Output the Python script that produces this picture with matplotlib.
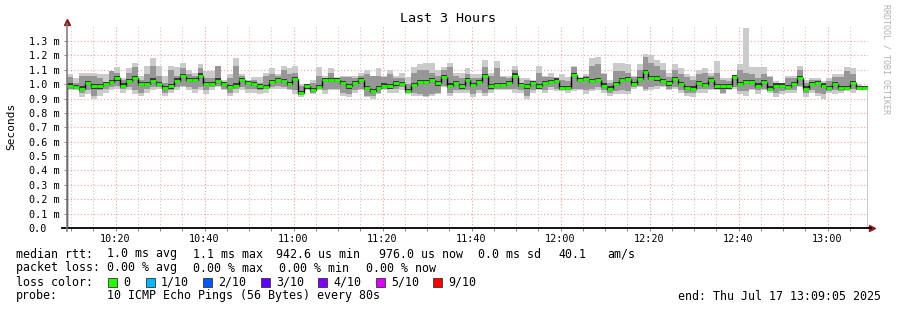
import numpy as np
import matplotlib
matplotlib.use('Agg')
import matplotlib.pyplot as plt
from matplotlib.patches import Rectangle
from matplotlib.ticker import MultipleLocator, FixedLocator

plt.rcParams['font.family'] = ['DejaVu Sans Mono', 'DejaVu Sans']

title = 'Last 3 Hours'

# 135 samples of 80 s, 10:09:05 -> 13:09:05 (x in minutes after 10:00)
t_start = 9 + 5 / 60.
step = 80 / 60.

# median rtt per step (ms)
median = [0.99, 0.98, 0.97, 1.01, 0.985, 0.985, 1.0, 1.015, 1.04, 0.99,
          1.02, 1.045, 1.0, 1.0, 1.025, 1.0, 0.975, 0.985, 1.025, 1.055,
          1.03, 1.03, 1.06, 1.0, 1.0, 1.025, 1.0,
          0.98, 0.99, 1.03, 1.01, 1.0, 0.985, 0.98, 1.015, 1.03, 1.02,
          1.0, 1.035, 0.94, 0.985, 0.96, 0.98, 1.03, 1.03, 1.03, 1.01,
          0.985, 1.01, 1.03, 0.975, 0.955, 0.975, 0.99,
          0.985, 1.005, 1.0, 0.955, 0.995, 1.015, 1.015, 1.03, 1.005, 1.05,
          0.99, 1.01, 0.985, 1.03, 0.995, 1.015, 1.055, 0.985, 0.995, 0.995,
          1.01, 1.06, 0.995, 0.985, 1.01, 0.985, 1.01,
          1.015, 1.025, 0.975, 0.975, 1.065, 1.03, 1.035, 1.02, 1.03, 0.99,
          0.97, 1.0, 1.03, 1.035, 1.0, 1.035, 1.085, 1.045, 1.04, 1.02,
          1.005, 1.035, 1.0, 0.975, 0.97, 1.01, 0.995,
          1.03, 0.985, 0.985, 0.985, 1.05, 1.0, 1.015, 1.015, 0.99, 1.015,
          0.97, 0.99, 0.99, 0.98, 1.0, 1.045, 0.97, 1.0, 1.01, 0.99,
          0.975, 1.0, 0.975, 0.975, 1.01, 0.975, 0.975]

# outer smoke (slowest / fastest ping)
smoke_max = [1.07, 1.04, 1.08, 1.08, 1.08, 1.07, 1.07, 1.09, 1.12, 1.04,
             1.11, 1.15, 1.06, 1.13, 1.18, 1.13, 1.06, 1.13, 1.12, 1.15,
             1.10, 1.08, 1.14, 1.09, 1.09, 1.13, 1.03,
             1.07, 1.18, 1.07, 1.03, 1.05, 1.05, 1.08, 1.11, 1.07, 1.13,
             1.11, 1.13, 1.00, 0.99, 1.03, 1.12, 1.06, 1.11, 1.05, 1.06,
             1.06, 1.06, 1.08, 1.10, 1.06, 1.11, 1.06,
             1.10, 1.06, 1.08, 1.05, 1.12, 1.14, 1.15, 1.15, 1.10, 1.12,
             1.15, 1.08, 1.08, 1.11, 1.07, 1.07, 1.17, 1.08, 1.16, 1.06,
             1.06, 1.13, 1.04, 1.04, 1.03, 1.13, 1.06,
             1.08, 1.05, 1.07, 1.05, 1.13, 1.05, 1.07, 1.18, 1.19, 1.08,
             1.03, 1.15, 1.15, 1.14, 1.06, 1.14, 1.21, 1.20, 1.17, 1.15,
             1.08, 1.14, 1.11, 1.07, 1.06, 1.10, 1.11,
             1.08, 1.16, 1.04, 1.04, 1.06, 1.14, 1.39, 1.12, 1.12, 1.12,
             1.06, 1.02, 1.01, 1.06, 1.06, 1.13, 1.03, 1.04, 1.04, 1.02,
             1.04, 1.07, 1.07, 1.12, 1.11, 1.00, 0.99]
smoke_min = [0.96, 0.96, 0.91, 0.93, 0.90, 0.92, 0.94, 0.96, 0.97, 0.94,
             0.96, 0.93, 0.92, 0.94, 0.96, 0.97, 0.92, 0.94, 0.96, 0.98,
             0.96, 0.94, 0.96, 0.93, 0.96, 0.98, 0.96,
             0.92, 0.94, 0.96, 0.94, 0.94, 0.93, 0.94, 0.97, 0.97, 0.97,
             0.96, 0.93, 0.91, 0.96, 0.93, 0.96, 0.93, 0.96, 0.96, 0.92,
             0.91, 0.94, 0.96, 0.91, 0.90, 0.93, 0.96,
             0.94, 0.94, 0.96, 0.93, 0.92, 0.92, 0.91, 0.92, 0.93, 0.98,
             0.92, 0.94, 0.94, 0.94, 0.91, 0.94, 0.92, 0.94, 0.96, 0.96,
             0.96, 0.94, 0.94, 0.90, 0.94, 0.96, 0.94,
             0.96, 0.95, 0.95, 0.94, 0.95, 0.96, 0.93, 0.95, 0.96, 0.94,
             0.92, 0.93, 0.93, 0.93, 0.97, 0.98, 0.95, 0.96, 0.97, 0.98,
             0.96, 0.97, 0.94, 0.92, 0.91, 0.94, 0.94,
             0.96, 0.96, 0.93, 0.96, 0.97, 0.93, 0.92, 0.96, 0.93, 0.96,
             0.94, 0.91, 0.93, 0.94, 0.94, 0.98, 0.91, 0.94, 0.92, 0.90,
             0.94, 0.93, 0.94, 0.95, 0.94, 0.96, 0.96]

# inner smoke (2nd .. 9th ping)
smoke_hi = [1.05, 1.01, 1.06, 1.06, 1.06, 1.04, 1.01, 1.09, 1.08, 1.03,
            1.08, 1.12, 1.03, 1.07, 1.13, 1.06, 1.01, 1.10, 1.06, 1.11,
            1.07, 1.06, 1.11, 1.04, 1.04, 1.13, 1.01,
            1.04, 1.13, 1.06, 1.01, 1.03, 1.01, 1.06, 1.07, 1.06, 1.10,
            1.07, 1.08, 0.99, 0.99, 1.01, 1.06, 1.04, 1.08, 1.04, 1.05,
            1.05, 1.04, 1.06, 1.07, 1.06, 1.06, 1.05,
            1.07, 1.04, 1.04, 1.00, 1.08, 1.10, 1.10, 1.08, 1.06, 1.10,
            1.12, 1.06, 1.04, 1.07, 1.04, 1.04, 1.12, 1.06, 1.11, 1.05,
            1.04, 1.10, 1.01, 1.03, 1.01, 1.08, 1.05,
            1.05, 1.04, 1.03, 1.02, 1.12, 1.04, 1.06, 1.13, 1.14, 1.07,
            1.01, 1.09, 1.09, 1.08, 1.05, 1.10, 1.19, 1.15, 1.13, 1.10,
            1.05, 1.10, 1.07, 1.05, 1.03, 1.07, 1.08,
            1.06, 1.08, 1.03, 1.02, 1.06, 1.10, 1.08, 1.07, 1.04, 1.07,
            1.05, 1.01, 1.00, 1.04, 1.04, 1.10, 1.01, 1.03, 1.03, 1.01,
            1.02, 1.05, 1.05, 1.09, 1.07, 0.99, 0.985]
smoke_lo = [0.97, 0.97, 0.94, 0.96, 0.92, 0.96, 0.97, 0.98, 0.99, 0.97,
            0.98, 0.96, 0.94, 0.97, 0.98, 0.98, 0.94, 0.96, 0.98, 0.99,
            0.98, 0.97, 0.98, 0.96, 0.98, 0.99, 0.97,
            0.94, 0.97, 0.98, 0.97, 0.97, 0.96, 0.97, 0.98, 0.99, 0.98,
            0.97, 0.96, 0.93, 0.97, 0.94, 0.97, 0.96, 0.97, 0.97, 0.94,
            0.93, 0.96, 0.97, 0.92, 0.92, 0.94, 0.97,
            0.97, 0.97, 0.98, 0.94, 0.94, 0.93, 0.92, 0.93, 0.94, 0.99,
            0.94, 0.96, 0.96, 0.96, 0.93, 0.96, 0.94, 0.96, 0.97, 0.97,
            0.97, 0.97, 0.96, 0.92, 0.96, 0.97, 0.96,
            0.98, 0.97, 0.96, 0.96, 0.97, 0.97, 0.96, 0.97, 0.98, 0.96,
            0.94, 0.95, 0.96, 0.95, 0.98, 0.99, 0.97, 0.98, 0.99, 0.99,
            0.97, 0.98, 0.96, 0.94, 0.94, 0.97, 0.97,
            0.97, 0.97, 0.94, 0.97, 0.98, 0.95, 0.95, 0.97, 0.96, 0.97,
            0.95, 0.94, 0.95, 0.96, 0.96, 0.99, 0.94, 0.96, 0.94, 0.93,
            0.95, 0.96, 0.95, 0.97, 0.97, 0.96, 0.965]

time_ticks = [20, 40, 60, 80, 100, 120, 140, 160, 180]
time_labels = ['10:20', '10:40', '11:00', '11:20', '11:40', '12:00', '12:20', '12:40', '13:00']
loss_labels = ['0', '1/10', '2/10', '3/10', '4/10', '5/10', '9/10']
loss_colors = ['#26ff00', '#00b8ff', '#0059ff', '#5e00ff', '#7e00ff', '#dd00ff', '#ff0000']

W, H = 897, 310
fig = plt.figure(figsize=(W / 100, H / 100), dpi=100)
fig.patch.set_facecolor('white')
ax = fig.add_axes([67 / W, (H - 228) / H, 801 / W, (228 - 26.7) / H])

edges = t_start + step * np.arange(len(median) + 1)
med = np.array(median)

ax.stairs(smoke_max, edges, baseline=smoke_min, fill=True, color='#cbcbcb', lw=0, zorder=2)
ax.stairs(smoke_hi, edges, baseline=smoke_lo, fill=True, color='#979797', lw=0, zorder=3)
ax.stairs(med + 0.015, edges, baseline=med - 0.015, fill=True, color='#3a3a3a', lw=0, zorder=4)
ax.stairs(med, edges, color='black', lw=1.0, zorder=5)
ax.hlines(med, edges[:-1], edges[1:], color='#26ff00', lw=2.0, zorder=6)

ax.set_xlim(edges[0], edges[-1])
ax.set_ylim(0, 1.4)

ax.xaxis.set_major_locator(FixedLocator(time_ticks))
ax.set_xticklabels(time_labels)
ax.xaxis.set_minor_locator(MultipleLocator(5))
ax.yaxis.set_major_locator(FixedLocator(np.arange(0, 14) / 10.))
ax.set_yticklabels(['0.0'] + ['%.1f m' % (v / 10.) for v in range(1, 14)])

ax.grid(which='major', axis='both', color='#f0a0a0', ls=(0, (1, 2)), lw=0.8)
ax.grid(which='minor', axis='x', color='#c8c8c8', ls=(0, (1, 2)), lw=0.8)
ax.set_axisbelow(True)

ax.tick_params(axis='both', which='major', length=2.5, width=0.7, color='#888888', labelsize=7.3)
ax.tick_params(axis='x', which='minor', length=2, width=0.7, color='#888888')
ax.tick_params(axis='x', which='major', pad=1.5)
ax.tick_params(axis='y', which='major', pad=25)
for lab in ax.get_yticklabels():
    lab.set_horizontalalignment('left')

for s in ax.spines.values():
    s.set_visible(False)

# axes with arrows
ax.plot([-5 / 801, 1 + 3 / 801], [0, 0], color='black', lw=1.3, transform=ax.transAxes, clip_on=False, zorder=7)
ax.plot([0, 0], [-3 / 201, 1 + 3 / 201], color='#808080', lw=1.2, transform=ax.transAxes, clip_on=False, zorder=7)
ax.plot([0], [1 + 5 / 201], marker='^', ms=4, color='#8b1a1a', transform=ax.transAxes, clip_on=False)
ax.plot([1 + 4 / 801], [0], marker='>', ms=4, color='#8b1a1a', transform=ax.transAxes, clip_on=False)

fig.text(448 / W, 1 - 19 / H, title, ha='center', va='center', fontsize=9.6)
fig.text(11 / W, 1 - 126 / H, 'Seconds', rotation=90, ha='center', va='center', fontsize=8)
fig.text(886 / W, 1 - 4 / H, 'RRDTOOL / TOBI OETIKER', rotation=270, ha='center', va='top',
         fontsize=6, color='#b0b0b0')


def put(x, y, s, **kw):
    fig.text(x / W, 1 - y / H, s, va='center', ha='left', fontsize=8.35, **kw)


y1, y2, y3, y4 = 254, 268, 282, 296
put(16, y1, 'median rtt:')
for x, s in [(107, '1.0 ms avg'), (193, '1.1 ms max'), (276, '942.6 us min'),
             (379, '976.0 us now'), (478, '0.0 ms sd'), (558, '40.1'), (607, 'am/s')]:
    put(x, y1, s)
put(16, y2, 'packet loss:')
for x, s in [(107, '0.00 % avg'), (193, '0.00 % max'), (279, '0.00 % min'), (366, '0.00 % now')]:
    put(x, y2, s)
put(16, y3, 'loss color:')
box_x = [108, 146, 203, 261, 318, 376, 433]
for bx, lab, col in zip(box_x, loss_labels, loss_colors):
    fig.patches.append(Rectangle((bx / W, 1 - 287 / H), 9 / W, 9 / H, transform=fig.transFigure,
                                 facecolor=col, edgecolor='#333333', lw=0.6))
    put(bx + 15, y3, lab)
put(16, y4, 'probe:')
put(107, y4, '10 ICMP Echo Pings (56 Bytes) every 80s')
put(678, y4, 'end: Thu Jul 17 13:09:05 2025')

fig.savefig('out.png', dpi=100, facecolor='white')
